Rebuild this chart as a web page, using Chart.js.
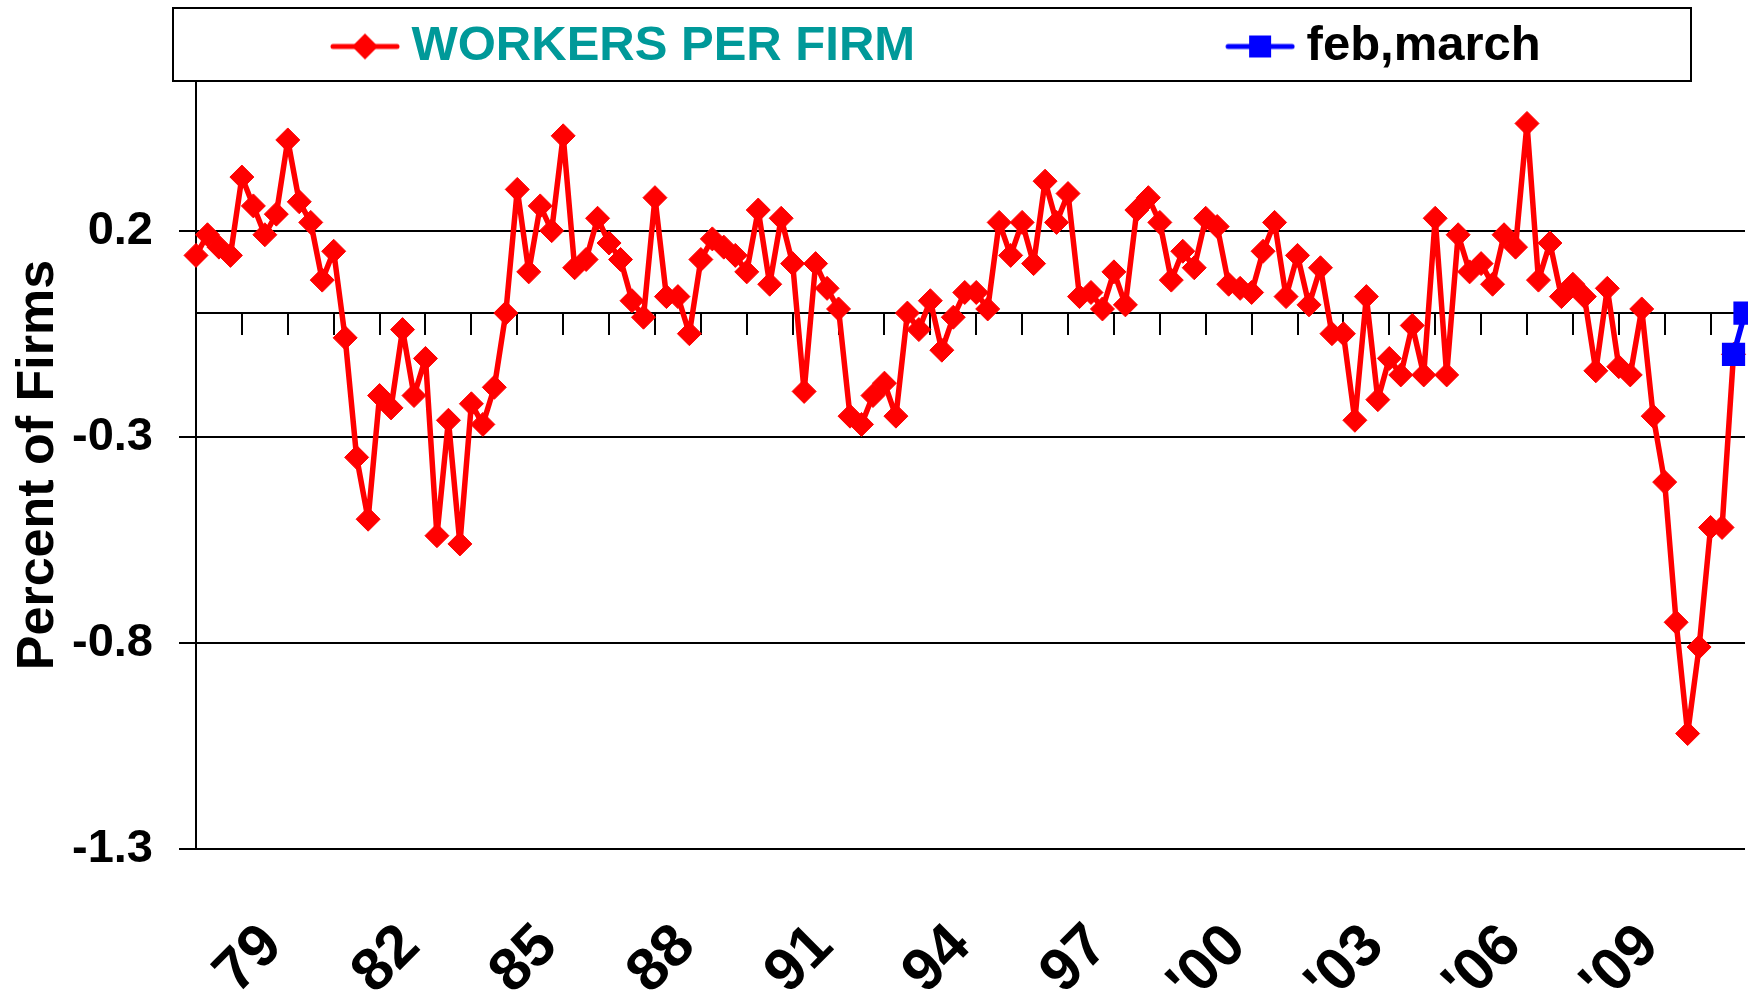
<!DOCTYPE html>
<html>
<head>
<meta charset="utf-8">
<script src="https://cdn.jsdelivr.net/npm/chart.js@4.4.1/dist/chart.umd.min.js"></script>
<style>
  html, body { margin: 0; padding: 0; background: #ffffff; }
  #wrap { width: 1748px; height: 1003px; }
</style>
</head>
<body>
<div id="wrap"><canvas id="c" width="1748" height="1003"></canvas></div>
<script>
// ---------------- DATA ----------------
const seriesNames = ['WORKERS PER FIRM', 'feb,march'];
const firstYear = 1977;          // first quarter shown (Q1)
const yearTickLabels = ['79', '82', '85', '88', '91', '94', '97', "'00", "'03", "'06", "'09"];
const firstYearLabelIndex = 8;   // category index of the first year label
const yearLabelEvery = 12;       // quarters between year labels
const tickMarkEvery = 4;         // quarters between tick marks
const yTickValues = [0.2, -0.3, -0.8, -1.3];

const workersPerFirm = [
  0.14, 0.19, 0.16, 0.14, 0.33, 0.26, 0.19, 0.24, 0.42, 0.27,
  0.22, 0.08, 0.15, -0.06, -0.35, -0.50, -0.20, -0.23, -0.04, -0.20,
  -0.11, -0.54, -0.26, -0.56, -0.22, -0.27, -0.18, 0.00, 0.30, 0.10,
  0.26, 0.20, 0.43, 0.11, 0.13, 0.23, 0.17, 0.13, 0.03, -0.01,
  0.28, 0.04, 0.04, -0.05, 0.13, 0.18, 0.16, 0.14, 0.10, 0.25,
  0.07, 0.23, 0.12, -0.19, 0.12, 0.06, 0.01, -0.25, -0.27, -0.20,
  -0.17, -0.25, 0.00, -0.04, 0.03, -0.09, -0.01, 0.05, 0.05, 0.01,
  0.22, 0.14, 0.22, 0.12, 0.32, 0.22, 0.29, 0.04, 0.05, 0.01,
  0.10, 0.02, 0.25, 0.28, 0.22, 0.08, 0.15, 0.11, 0.23, 0.21,
  0.07, 0.06, 0.05, 0.15, 0.22, 0.04, 0.14, 0.02, 0.11, -0.05,
  -0.05, -0.26, 0.04, -0.21, -0.11, -0.15, -0.03, -0.15, 0.23, -0.15,
  0.19, 0.10, 0.12, 0.07, 0.19, 0.16, 0.46, 0.08, 0.17, 0.04,
  0.07, 0.04, -0.14, 0.06, -0.13, -0.15, 0.01, -0.25, -0.41, -0.75,
  -1.02, -0.81, -0.52, -0.52, -0.10, null
];
const febMarch = new Array(134).fill(null).concat([-0.10, 0.00]);

// quarter categories
const categories = workersPerFirm.map((_, i) =>
  String(firstYear + Math.floor(i / 4)) + ' Q' + ((i % 4) + 1));

// ---------------- STYLE ----------------
const FONT = '"Liberation Sans", Arial, Helvetica, sans-serif';
Chart.defaults.font.family = FONT;
Chart.defaults.color = '#000000';

const LEGEND_BOX = 345;   // reserved width of each legend symbol slot
function legendSymbol(kind, color) {
  const w = LEGEND_BOX + 26, h = 34;
  const c = document.createElement('canvas');
  c.width = w; c.height = h;
  const g = c.getContext('2d');
  g.strokeStyle = color; g.fillStyle = color;
  g.lineWidth = 5; g.lineCap = 'round';
  g.beginPath(); g.moveTo(w - 67, h / 2); g.lineTo(w - 3, h / 2); g.stroke();
  const cx = w - 35, cy = h / 2;
  if (kind === 'diamond') {
    g.beginPath();
    g.moveTo(cx - 13, cy); g.lineTo(cx, cy - 13); g.lineTo(cx + 13, cy); g.lineTo(cx, cy + 13);
    g.closePath(); g.fill();
  } else {
    g.fillRect(cx - 11, cy - 11, 22, 22);
  }
  return c;
}
const legendSymbols = [legendSymbol('diamond', '#ff0000'), legendSymbol('square', '#0000ff')];
const legendTextColors = ['#009999', '#000000'];

const legendBorder = {
  id: 'legendBorder',
  afterDraw(chart, args, opts) {
    const ctx = chart.ctx;
    ctx.save();
    ctx.strokeStyle = '#000';
    ctx.lineWidth = 2;
    ctx.strokeRect(opts.left, opts.top, opts.right - opts.left, opts.bottom - opts.top);
    ctx.restore();
  }
};

const tickColor = (ctx) => (ctx.index % tickMarkEvery === 0 ? '#000000' : 'rgba(0,0,0,0)');

new Chart(document.getElementById('c'), {
  type: 'line',
  data: {
    labels: categories,
    datasets: [
      {
        label: seriesNames[0],
        data: workersPerFirm,
        borderColor: '#ff0000', backgroundColor: '#ff0000',
        borderWidth: 5.5, borderJoinStyle: 'round', borderCapStyle: 'round',
        pointStyle: 'rectRot', pointRadius: 12, pointBorderWidth: 1,
        pointBackgroundColor: '#ff0000', pointBorderColor: '#ff0000',
        tension: 0, clip: false, order: 1
      },
      {
        label: seriesNames[1],
        data: febMarch,
        borderColor: '#0000ff', backgroundColor: '#0000ff',
        borderWidth: 5.5, borderJoinStyle: 'round', borderCapStyle: 'round',
        pointStyle: 'rect', pointRadius: 15, pointBorderWidth: 2,
        pointBackgroundColor: '#0000ff', pointBorderColor: '#0000ff',
        tension: 0, clip: false, order: 0
      }
    ]
  },
  options: {
    responsive: false,
    animation: false,
    devicePixelRatio: 1,
    layout: { autoPadding: false, padding: { left: 20, right: 3, top: 0, bottom: 0 } },
    plugins: {
      tooltip: { enabled: false },
      legendBorder: { left: 173, top: 8, right: 1691, bottom: 81 },
      legend: {
        display: true,
        position: 'top',
        align: 'start',
        labels: {
          usePointStyle: true,
          pointStyleWidth: LEGEND_BOX,
          padding: 22,
          font: { size: 49, weight: 'bold', family: FONT },
          generateLabels: (chart) => chart.data.datasets.map((ds, i) => ({
            text: ds.label,
            fillStyle: ds.borderColor,
            strokeStyle: ds.borderColor,
            fontColor: legendTextColors[i],
            lineWidth: 0,
            pointStyle: legendSymbols[i],
            hidden: false,
            datasetIndex: i
          }))
        }
      }
    },
    scales: {
      x: {
        type: 'category',
        position: 'bottom',
        offset: false,
        afterFit: (s) => { s.height = 154; s.paddingLeft = 0; s.paddingRight = 0; },
        grid: { display: false, drawTicks: false },
        border: { display: false },
        ticks: {
          autoSkip: false,
          minRotation: 45, maxRotation: 45,
          padding: 62,
          labelOffset: -15,
          color: '#000',
          font: { size: 60, weight: 'bold', family: FONT },
          callback: (v, i) => {
            const j = i - firstYearLabelIndex;
            return (j >= 0 && j % yearLabelEvery === 0 && yearTickLabels[j / yearLabelEvery]) ? yearTickLabels[j / yearLabelEvery] : '';
          }
        }
      },
      x0: {
        type: 'category',
        position: { y: 0 },
        offset: false,
        afterFit: (s) => { s.paddingLeft = 0; s.paddingRight = 0; },
        grid: { display: true, drawOnChartArea: false, drawTicks: true, tickLength: 21, color: tickColor, lineWidth: 2 },
        border: { display: true, color: '#000', width: 2 },
        ticks: { display: false, autoSkip: false }
      },
      y: {
        type: 'linear',
        min: -1.3,
        max: 0.563,
        afterBuildTicks: (s) => { s.ticks = yTickValues.map(v => ({ value: v })); },
        afterFit: (s) => { s.width = 176; s.paddingTop = 0; s.paddingBottom = 0; },
        grid: { color: '#000', lineWidth: 2, tickLength: 17, drawTicks: true },
        border: { display: true, color: '#000', width: 2 },
        ticks: {
          padding: 26,
          color: '#000',
          font: { size: 47, weight: 'bold', family: FONT },
          callback: (v) => Number(v).toFixed(1)
        },
        title: {
          display: true,
          text: 'Percent of Firms',
          color: '#000',
          padding: 0,
          font: { size: 52, weight: 'bold', family: FONT, lineHeight: 0.72 }
        }
      }
    }
  },
  plugins: [legendBorder]
});
</script>
</body>
</html>
